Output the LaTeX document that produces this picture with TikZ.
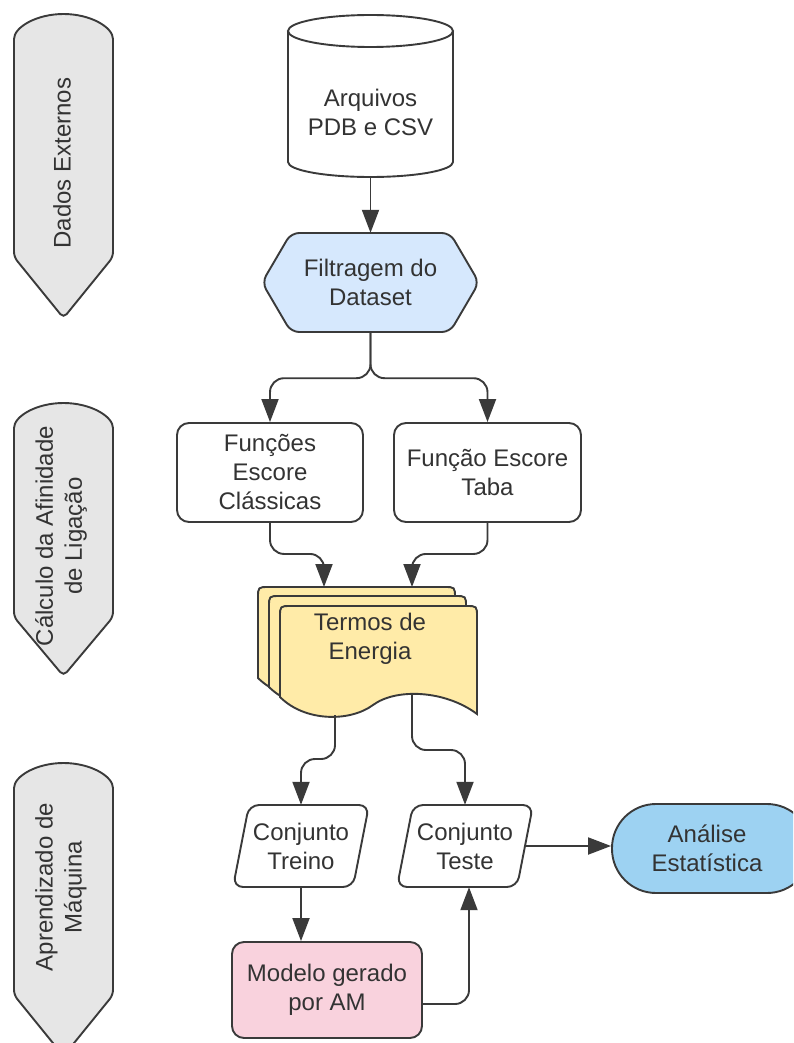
\documentclass[tikz,border=0pt]{standalone}
\usepackage{fontspec}
\setmainfont{Liberation Sans}
\usetikzlibrary{arrows.meta}
\definecolor{linec}{HTML}{3A3A3A}
\definecolor{txtc}{HTML}{333333}
\definecolor{bannerc}{HTML}{E6E6E6}
\definecolor{hexblue}{HTML}{D6E8FD}
\definecolor{docyellow}{HTML}{FFEBA8}
\definecolor{statblue}{HTML}{9DD2F2}
\definecolor{modpink}{HTML}{F9D2DD}
\tikzset{
  lbl/.style={font=\fontsize{24}{29}\selectfont, text=txtc, align=center, inner sep=0pt},
  outl/.style={draw=linec, line width=1.9pt},
  box/.style={lbl, outl, rounded corners=12pt, fill=white},
  banner/.style={outl, fill=bannerc, rounded corners=5pt},
  arr/.style={draw=linec, line width=1.9pt, rounded corners=14pt, -{Triangle[length=23pt,width=17pt]}}
}
\begin{document}
\begin{tikzpicture}[x=1pt,y=-1pt]
\useasboundingbox (0,0) rectangle (793,1043);
\fill[white] (0,0) rectangle (793,1043);
\clip (0,0) rectangle (793,1043);
\draw[banner] (14,257) -- (14,44) arc[start angle=180,end angle=0,x radius=49.5pt,y radius=30pt] -- (113,257) -- (63.5,318) -- cycle;
\draw[banner] (14,617) -- (14,433) arc[start angle=180,end angle=0,x radius=49.5pt,y radius=30pt] -- (113,617) -- (63.5,676) -- cycle;
\draw[banner] (14,995) -- (14,793) arc[start angle=180,end angle=0,x radius=49.5pt,y radius=30pt] -- (113,995) -- (63.5,1056) -- cycle;
\node[lbl, rotate=90] (ban1) at (62,163) {Dados Externos};
\node[lbl, rotate=90] (ban2) at (61,536) {Cálculo da Afinidade\\de Ligação};
\node[lbl, rotate=90] (ban3) at (61,887) {Aprendizado de\\Máquina};
\draw[outl, fill=white] (288,31) -- (288,162) arc[start angle=180,end angle=360,x radius=82.5pt,y radius=15pt] -- (453,31);
\draw[outl, fill=white] (370.5,31) ellipse[x radius=82.5pt,y radius=16pt];
\node[lbl, minimum width=165pt, minimum height=130pt] (arq) at (370.5,112) {Arquivos\\PDB e CSV};
\draw[outl, fill=hexblue, rounded corners=8pt] (262,282.5) -- (291,233) -- (450,233) -- (479,282.5) -- (450,332) -- (291,332) -- cycle;
\node[lbl, minimum width=217pt, minimum height=99pt] (filt) at (370.5,282.5) {Filtragem do\\Dataset};
\node[box, minimum width=186pt, minimum height=99pt] (fcl) at (270,472.5) {Funções\\Escore\\Clássicas};
\node[box, minimum width=187pt, minimum height=99pt] (ftb) at (487.5,472.5) {Função Escore\\Taba};
\foreach \dx/\dy in {22/19,11/10,0/0}
  \draw[outl, fill=docyellow, shift={(-\dx,-\dy)}] (280,697) -- (280,617) .. controls (280,606) .. (291,606) -- (466,606) .. controls (477,606) .. (477,617) -- (477,714) .. controls (445,690) and (396,688) .. (373,705) .. controls (350,722) and (305,722) .. (280,697) -- cycle;
\node[lbl] (term) at (370,639) {Termos de\\Energia};
\coordinate (tin1) at (324,587);
\coordinate (tin2) at (412,587);
\coordinate (tout1) at (335,715);
\coordinate (tout2) at (412,695);
\draw[outl, fill=white, rounded corners=10pt] (249,805) -- (369,805) -- (353,887) -- (233,887) -- cycle;
\draw[outl, fill=white, rounded corners=10pt] (413,805) -- (533,805) -- (517,887) -- (397,887) -- cycle;
\node[lbl, minimum width=120pt, minimum height=82pt] (tre) at (301,846) {Conjunto\\Treino};
\node[lbl, minimum width=120pt, minimum height=82pt] (tes) at (465,846) {Conjunto\\Teste};
\node[box, fill=statblue, rounded corners=44pt, minimum width=199pt, minimum height=89pt, text width=150pt] (ana) at (711.5,848.5) {\hspace*{-9pt}Análise\\\hspace*{-9pt}Estatística};
\node[box, fill=modpink, minimum width=190pt, minimum height=96pt] (mod) at (327,990) {Modelo gerado\\por AM};
\coordinate (mout) at (422,1004);
\draw[arr, rounded corners=0pt] (arq.south) -- (filt.north);
\draw[arr] (filt.south) -- ++(0,46) -| (fcl.north);
\draw[arr] (filt.south) -- ++(0,46) -| (ftb.north);
\draw[arr] (fcl.south) -- ++(0,31) -| (tin1);
\draw[arr] (ftb.south) -- ++(0,31) -| (tin2);
\draw[arr] (tout1) -- ++(0,44) -| (tre.north);
\draw[arr] (tout2) -- ++(0,55) -| (tes.north);
\draw[arr, rounded corners=0pt] (tes.east) -- (tes.east -| ana.west);
\draw[arr, rounded corners=0pt] (tre.south) -- (tre.south |- mod.north);
\draw[arr] (mout) -| ([xshift=4pt]tes.south);
\end{tikzpicture}
\end{document}
